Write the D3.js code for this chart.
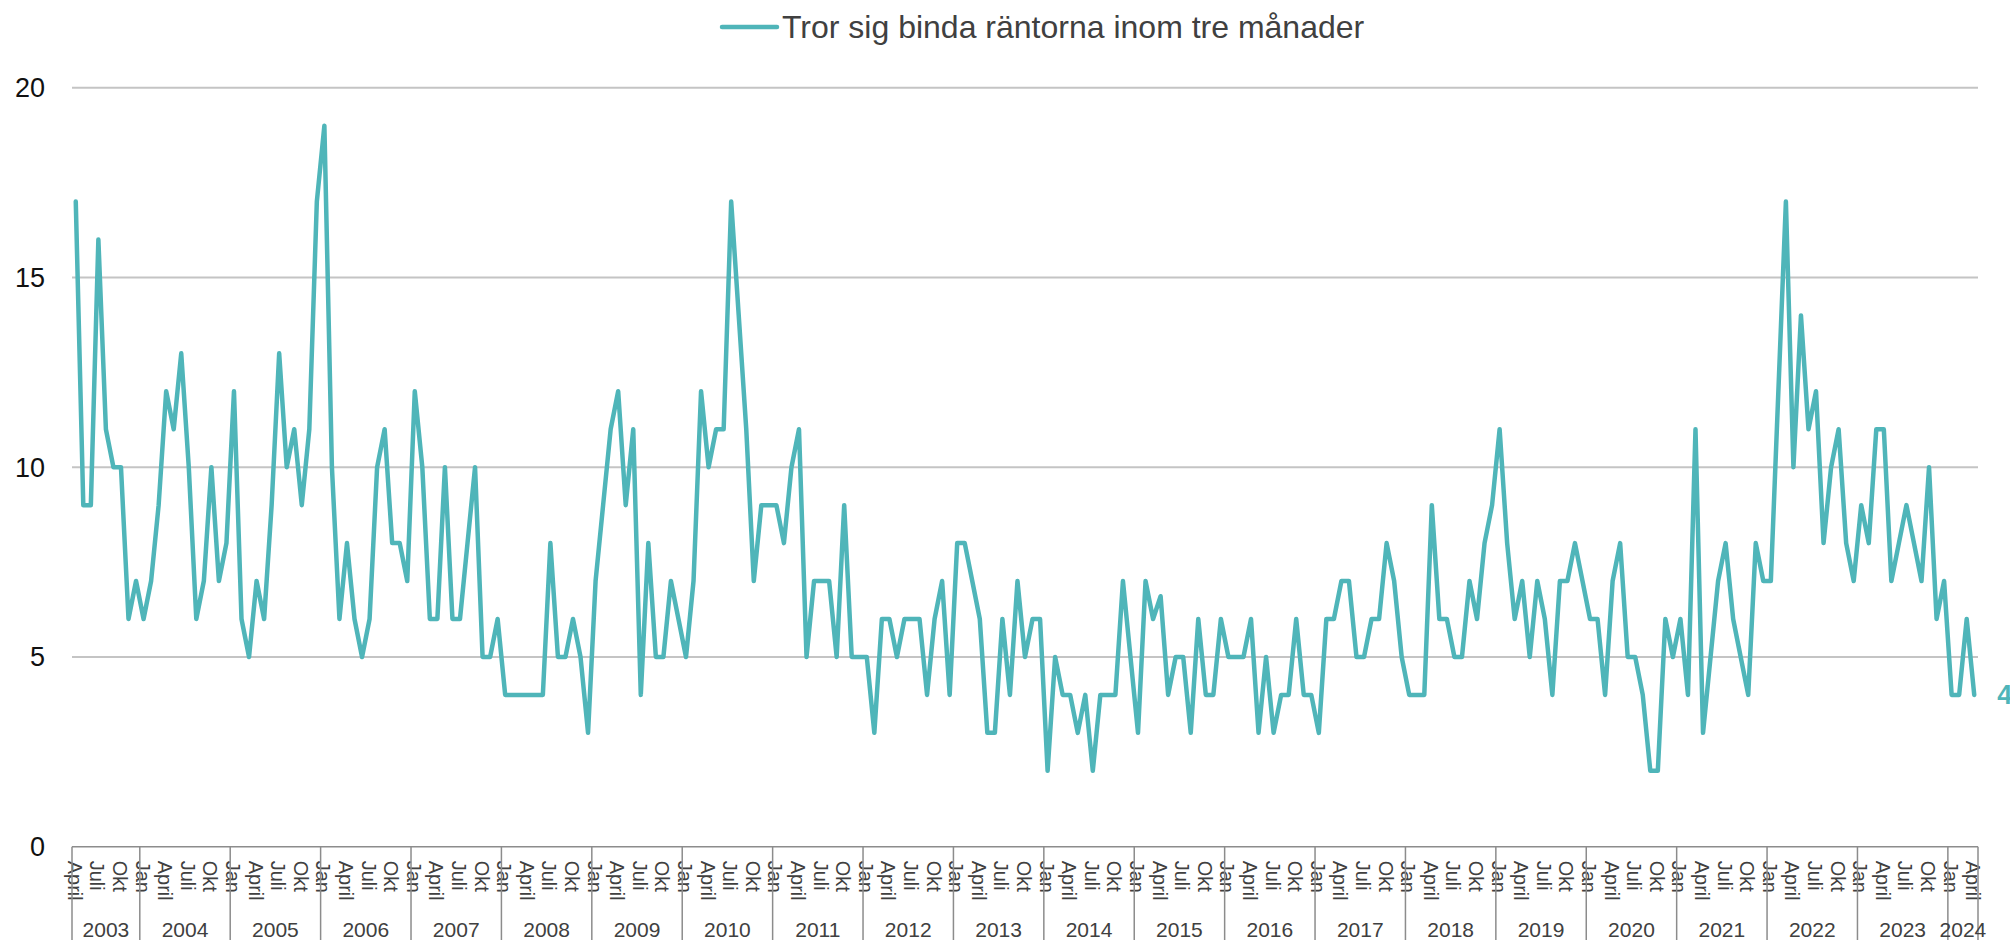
<!DOCTYPE html>
<html>
<head>
<meta charset="utf-8">
<script src="https://cdn.jsdelivr.net/npm/d3@7"></script>
<style>
  body { margin: 0; background: #fff; }
  svg { display: block; font-family: "Liberation Sans", Arial, sans-serif; }
</style>
</head>
<body>
<svg id="chart" width="2010" height="940"></svg>
<script>
// monthly series, first point April 2003
const startYear = 2003;
const startMonth = 3; // 0-based, April
const seriesName = 'Tror sig binda räntorna inom tre månader';
const monthTicks = ['Jan', '', '', 'April', '', '', 'Juli', '', '', 'Okt', '', ''];
const yTicks = [0, 5, 10, 15, 20];

const values = [
  17, 9, 9, 16, 11, 10, 10, 6, 7,                 // 2003
  6, 7, 9, 12, 11, 13, 10, 6, 7, 10, 7, 8,        // 2004
  12, 6, 5, 7, 6, 9, 13, 10, 11, 9, 11, 17,       // 2005
  19, 10, 6, 8, 6, 5, 6, 10, 11, 8, 8, 7,         // 2006
  12, 10, 6, 6, 10, 6, 6, 8, 10, 5, 5, 6,         // 2007
  4, 4, 4, 4, 4, 4, 8, 5, 5, 6, 5, 3,             // 2008
  7, 9, 11, 12, 9, 11, 4, 8, 5, 5, 7, 6,          // 2009
  5, 7, 12, 10, 11, 11, 17, 14, 11, 7, 9, 9,      // 2010
  9, 8, 10, 11, 5, 7, 7, 7, 5, 9, 5, 5,           // 2011
  5, 3, 6, 6, 5, 6, 6, 6, 4, 6, 7, 4,             // 2012
  8, 8, 7, 6, 3, 3, 6, 4, 7, 5, 6, 6,             // 2013
  2, 5, 4, 4, 3, 4, 2, 4, 4, 4, 7, 5,             // 2014
  3, 7, 6, 6.6, 4, 5, 5, 3, 6, 4, 4, 6,           // 2015
  5, 5, 5, 6, 3, 5, 3, 4, 4, 6, 4, 4,             // 2016
  3, 6, 6, 7, 7, 5, 5, 6, 6, 8, 7, 5,             // 2017
  4, 4, 4, 9, 6, 6, 5, 5, 7, 6, 8, 9,             // 2018
  11, 8, 6, 7, 5, 7, 6, 4, 7, 7, 8, 7,            // 2019
  6, 6, 4, 7, 8, 5, 5, 4, 2, 2, 6, 5,             // 2020
  6, 4, 11, 3, 5, 7, 8, 6, 5, 4, 8, 7,            // 2021
  7, 12, 17, 10, 14, 11, 12, 8, 10, 11, 8, 7,     // 2022
  9, 8, 11, 11, 7, 8, 9, 8, 7, 10, 6, 7,          // 2023
  4, 4, 6, 4                                      // 2024
];

const lineColor = '#4fb5b9';
const axisColor = '#8c8c8c';

const data = values.map((v, i) => {
  const m = startMonth + i;
  return { i, year: startYear + Math.floor(m / 12), month: m % 12, value: v };
});

const svg = d3.select('#chart');
const plotLeft = 72, plotRight = 1978, plotTop = 87.7, plotBottom = 846.7;

const x = d3.scaleBand()
  .domain(data.map(d => d.i))
  .range([plotLeft, plotRight])
  .padding(0);
const xc = i => x(i) + x.bandwidth() / 2;

const y = d3.scaleLinear()
  .domain([0, 20])
  .range([plotBottom, plotTop]);

// gridlines
svg.append('g')
  .selectAll('line')
  .data(yTicks.filter(t => t > 0))
  .join('line')
  .attr('x1', plotLeft).attr('x2', plotRight)
  .attr('y1', d => y(d)).attr('y2', d => y(d))
  .attr('stroke', '#c4c4c4')
  .attr('stroke-width', 2);

// y labels
svg.append('g')
  .selectAll('text')
  .data(yTicks)
  .join('text')
  .attr('x', 45)
  .attr('y', d => y(d))
  .attr('dy', '0.35em')
  .attr('text-anchor', 'end')
  .attr('font-size', 27)
  .attr('fill', '#111')
  .text(d => d);

// category axis line
svg.append('line')
  .attr('x1', plotLeft).attr('x2', plotRight)
  .attr('y1', plotBottom).attr('y2', plotBottom)
  .attr('stroke', axisColor)
  .attr('stroke-width', 1.5);

// month labels (every third month)
svg.append('g')
  .selectAll('text')
  .data(data.filter(d => monthTicks[d.month]))
  .join('text')
  .attr('transform', d => `translate(${xc(d.i)},${plotBottom + 14}) rotate(90)`)
  .attr('dy', '0.4em')
  .attr('font-size', 20)
  .attr('fill', '#404040')
  .text(d => monthTicks[d.month]);

// year groups
const years = d3.groups(data, d => d.year).map(([yr, ds]) => ({
  year: yr,
  x0: x(ds[0].i),
  x1: x(ds[ds.length - 1].i) + x.bandwidth()
}));

svg.append('g')
  .selectAll('line')
  .data(years.map(d => d.x0).concat([plotRight]))
  .join('line')
  .attr('x1', d => d).attr('x2', d => d)
  .attr('y1', plotBottom).attr('y2', 940)
  .attr('stroke', axisColor)
  .attr('stroke-width', 1.5);

svg.append('g')
  .selectAll('text')
  .data(years)
  .join('text')
  .attr('x', d => (d.x0 + d.x1) / 2)
  .attr('y', 937)
  .attr('text-anchor', 'middle')
  .attr('font-size', 21)
  .attr('fill', '#404040')
  .text(d => d.year);

// series line
const line = d3.line()
  .x(d => xc(d.i))
  .y(d => y(d.value));

svg.append('path')
  .datum(data)
  .attr('d', line)
  .attr('fill', 'none')
  .attr('stroke', lineColor)
  .attr('stroke-width', 4.5)
  .attr('stroke-linejoin', 'round')
  .attr('stroke-linecap', 'round');

// last value label
const last = data[data.length - 1];
svg.append('text')
  .attr('x', xc(last.i) + 23)
  .attr('y', y(last.value))
  .attr('dy', '0.35em')
  .attr('font-size', 27)
  .attr('font-weight', 'bold')
  .attr('fill', lineColor)
  .text(last.value);

// legend
const legend = svg.append('g').attr('transform', 'translate(722,27)');
legend.append('line')
  .attr('x1', 0).attr('x2', 55)
  .attr('stroke', lineColor)
  .attr('stroke-width', 4.5)
  .attr('stroke-linecap', 'round');
legend.append('text')
  .attr('x', 60)
  .attr('dy', '0.35em')
  .attr('font-size', 32)
  .attr('fill', '#404040')
  .text(seriesName);
</script>
</body>
</html>
